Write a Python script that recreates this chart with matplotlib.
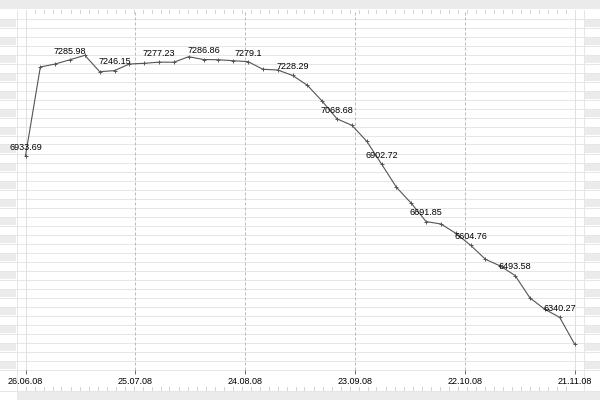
import numpy as np
import matplotlib
matplotlib.use('Agg')
import matplotlib.pyplot as plt
from matplotlib.patches import Rectangle
from matplotlib.lines import Line2D

# ---------------- data ----------------
step_days = 4
values = [6933.69, 7259.4, 7270.4, 7285.98, 7302.4, 7242.1, 7246.15, 7270.4, 7273.0, 7277.23,
          7277.0, 7297.2, 7286.86, 7286.0, 7282.5, 7279.1, 7251.0, 7248.4, 7228.29, 7192.2,
          7133.5, 7068.68, 7045.3, 6986.6, 6902.72, 6817.7, 6758.9, 6691.85, 6682.9, 6648.8,
          6604.76, 6553.3, 6528.7, 6493.58, 6411.2, 6369.7, 6340.27, 6242.3]
label_every = 3
tick_labels = ['26.06.08', '25.07.08', '24.08.08', '23.09.08', '22.10.08', '21.11.08']

# ---------------- layout (pixels, from top-left) ----------------
W, H = 600, 400
def fx(px): return px / W
def fy(py): return 1 - py / H
def lx(col): return (col + 0.5) / W          # centre of pixel column
def ly(row): return (H - row - 0.5) / H      # centre of pixel row

col_l, col_r = 16, 583          # frame columns
row_t, row_b = 9, 369           # plot top / bottom line rows
x0_px, x1_px = 25.5, 574.5      # first / last data point centres

days = np.arange(len(values)) * step_days
span = days[-1]
ppd = (x1_px - x0_px) / span

GRID = '#e6e6e6'
BAND = '#ebebeb'
LW = 0.72  # 1 px

fig = plt.figure(figsize=(6, 4), dpi=100, facecolor='white')

def frect(x, y, w, h, c):
    fig.add_artist(Rectangle((fx(x), fy(y + h)), w / W, h / H, transform=fig.transFigure,
                             facecolor=c, edgecolor='none', zorder=-2, antialiased=False))

def fline(xs, ys, c):
    fig.add_artist(Line2D(xs, ys, transform=fig.transFigure, color=c, lw=LW, zorder=-1,
                          antialiased=False))

# top band
frect(0, 0, W, row_t, BAND)
# bottom band
frect(col_l + 1, 391, W, 9, BAND)

# side stripes and horizontal grid rows
rows = [18 + 9 * k for k in range(40)]
for k in range(len(rows) - 1):
    if k % 2 == 0:
        frect(0, rows[k] + 1, col_l, 8, BAND)
        frect(col_r + 1, rows[k] + 1, W - col_r - 1, 8, BAND)

for r in rows:
    fline([0, 1], [ly(r), ly(r)], GRID)
fline([0, 1], [ly(390), ly(390)], GRID)
for c in (col_l, col_r):
    fline([lx(c), lx(c)], [ly(row_t), ly(391)], GRID)

# ruler ticks top & bottom
c = col_l + 9
while c < x1_px - 3:
    fline([lx(c), lx(c)], [ly(9), ly(12)], '#d4d4d4')
    fline([lx(c), lx(c)], [ly(386), ly(389)], '#d4d4d4')
    c += 9

# ---------------- axes ----------------
ax = fig.add_axes([fx(col_l + 0.5), fy(row_b + 0.5), (col_r - col_l) / W,
                   (row_b - row_t) / H])
ax.set_zorder(5)
ax.set_facecolor('none')
ax.set_xlim((col_l + 0.5 - x0_px) / ppd, span + (col_r + 0.5 - x1_px) / ppd)
# y scale: first point sits at pixel row ~155.7; 3.672 value units per pixel
upp = 3.672
ax.set_ylim(values[0] - (row_b + 0.5 - 155.7) * upp, values[0] + (155.7 - row_t - 0.5) * upp)
for s in ax.spines.values():
    s.set_visible(False)

tick_pos = np.linspace(0, span, len(tick_labels))
ax.set_xticks(tick_pos)
ax.set_xticklabels(tick_labels, fontsize=6.5, family='Liberation Sans', color='#000000')
ax.tick_params(axis='x', length=3, width=LW, color='#707070', pad=2.2)
ax.set_yticks([])

for i, tp in enumerate(tick_pos):
    if i == 0 or i == len(tick_pos) - 1:
        ax.axvline(tp, color='#e0e0e0', lw=LW, zorder=1)
    else:
        ax.axvline(tp, color='#bcbcbc', lw=LW, ls=(0, (3, 2)), zorder=1)

ax.plot(days, values, color='#555555', lw=0.8, marker='+', ms=3, mew=0.7, zorder=3)

for i in range(0, len(values), label_every):
    ax.annotate(str(values[i]), (days[i], values[i]), xytext=(0, 6.2),
                textcoords='offset points', ha='center', va='center',
                fontsize=6.5, family='Liberation Sans', color='#000000', zorder=4)

fig.savefig('out.png', dpi=100)
